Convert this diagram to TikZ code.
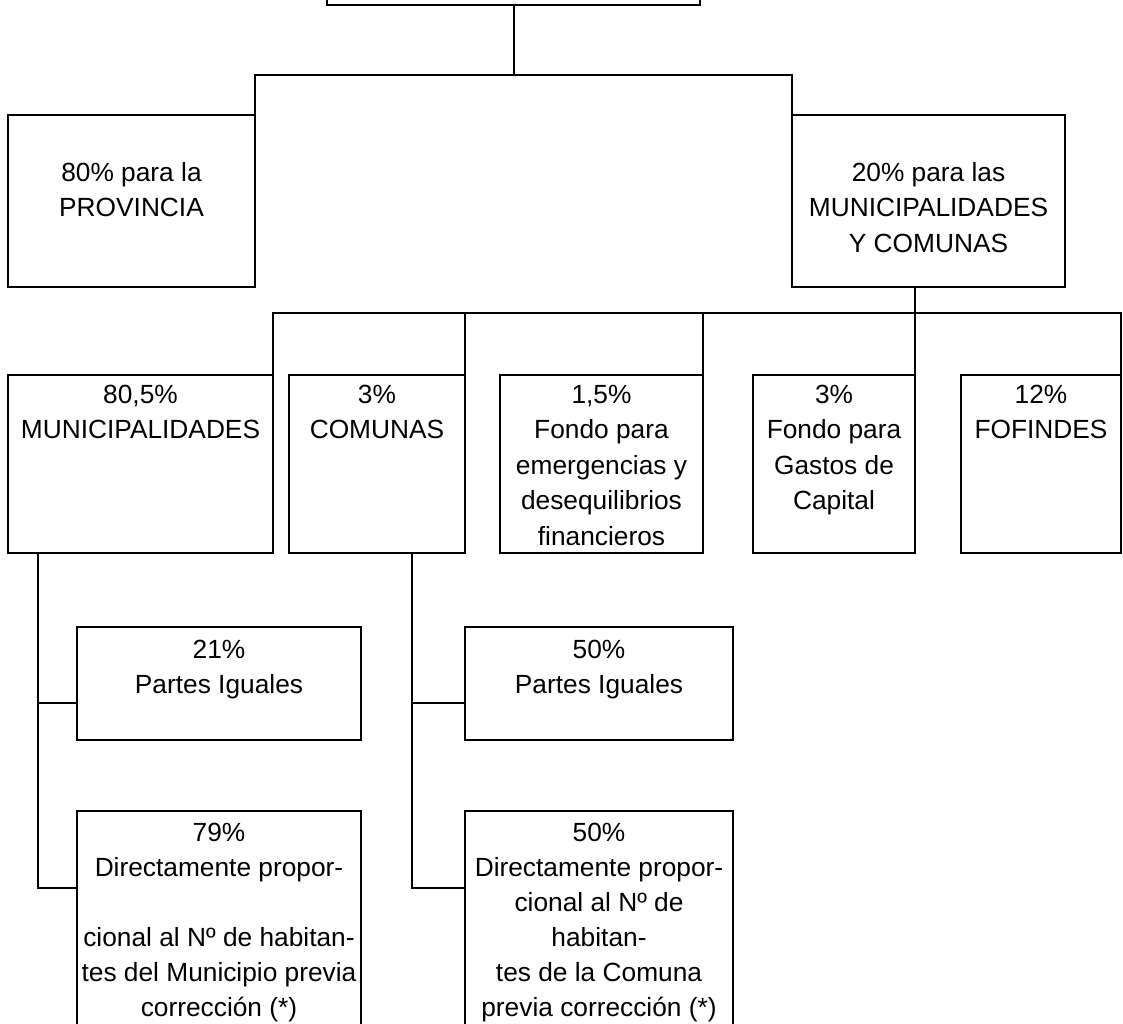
\documentclass[tikz,border=0pt]{standalone}
\usepackage{fontspec}
\setmainfont{Liberation Sans}
\begin{document}
\begin{tikzpicture}[x=1pt,y=-1pt,
  box/.style={draw, line width=2pt, inner sep=0pt, outer sep=0pt, anchor=north west},
  txt/.style={anchor=north, inner sep=0pt, align=center, font=\fontsize{26.3}{35.5}\selectfont},
  tighttxt/.style={txt, font=\fontsize{26.3}{35}\selectfont},
  conn/.style={line width=2pt}]
\useasboundingbox (0,0) rectangle (1123,1023);
% level 0
\node[box, minimum width=373pt, minimum height=120pt] (top) at (327,-115) {};
% level 1
\node[box, minimum width=247pt, minimum height=172pt] (prov) at (8,115) {};
\node[box, minimum width=273pt, minimum height=172pt] (mc) at (792,115) {};
\node[txt] (tprov) at ([yshift=-41pt]prov.north) {\strut 80\% para la\\PROVINCIA};
\node[txt] (tmc) at ([yshift=-41pt]mc.north) {\strut 20\% para las\\MUNICIPALIDADES\\Y COMUNAS};
% level 2
\node[box, minimum width=265pt, minimum height=178pt] (muni) at (8,375) {};
\node[box, minimum width=176pt, minimum height=178pt] (com) at (289,375) {};
\node[box, minimum width=203pt, minimum height=178pt] (emer) at (500,375) {};
\node[box, minimum width=162pt, minimum height=178pt] (cap) at (753,375) {};
\node[box, minimum width=160pt, minimum height=178pt] (fof) at (961,375) {};
\node[txt] (tmuni) at ([yshift=-3pt]muni.north) {\strut 80,5\%\\MUNICIPALIDADES};
\node[txt] (tcom) at ([yshift=-3pt]com.north) {\strut 3\%\\COMUNAS};
\node[txt] (temer) at ([yshift=-3pt]emer.north) {\strut 1,5\%\\Fondo para\\emergencias y\\desequilibrios\\financieros};
\node[txt] (tcap) at ([yshift=-3pt]cap.north) {\strut 3\%\\Fondo para\\Gastos de\\Capital};
\node[txt] (tfof) at ([yshift=-3pt]fof.north) {\strut 12\%\\FOFINDES};
% level 3
\node[box, minimum width=284pt, minimum height=113pt] (p21) at (77,627) {};
\node[box, minimum width=284pt, minimum height=240pt] (d79) at (77,811) {};
\node[box, minimum width=268pt, minimum height=113pt] (p50) at (465,627) {};
\node[box, minimum width=268pt, minimum height=240pt] (d50) at (465,811) {};
\node[txt] (tp21) at ([yshift=-6pt]p21.north) {\strut 21\%\\Partes Iguales};
\node[tighttxt] (td79) at ([yshift=-6pt]d79.north) {\strut 79\%\\Directamente propor-\\[35pt]cional al Nº de habitan-\\tes del Municipio previa\\corrección (*)};
\node[txt] (tp50) at ([yshift=-6pt]p50.north) {\strut 50\%\\Partes Iguales};
\node[tighttxt] (td50) at ([yshift=-6pt]d50.north) {\strut 50\%\\Directamente propor-\\cional al Nº de\\habitan-\\tes de la Comuna\\previa corrección (*)};
% connectors
\coordinate (j1) at (513.5,75);
\draw[conn] (top.south) -- (j1);
\draw[conn] (prov.north east) |- (j1) -| (mc.north west);
\coordinate (j2) at (915,313);
\draw[conn] (mc.south -| j2) -- (j2);
\draw[conn] (muni.north east) |- (j2) -| (fof.north east);
\draw[conn] (com.north east) -- (com.north east |- j2);
\draw[conn] (emer.north east) -- (emer.north east |- j2);
\draw[conn] (cap.north east) -- (j2);
\coordinate (k1) at ([xshift=30pt]muni.south west);
\draw[conn] (k1) |- ([yshift=-76pt]p21.north west);
\draw[conn] (k1) |- ([yshift=-77pt]d79.north west);
\coordinate (k2) at ([xshift=123pt]com.south west);
\draw[conn] (k2) |- ([yshift=-76pt]p50.north west);
\draw[conn] (k2) |- ([yshift=-77pt]d50.north west);
\end{tikzpicture}
\end{document}
